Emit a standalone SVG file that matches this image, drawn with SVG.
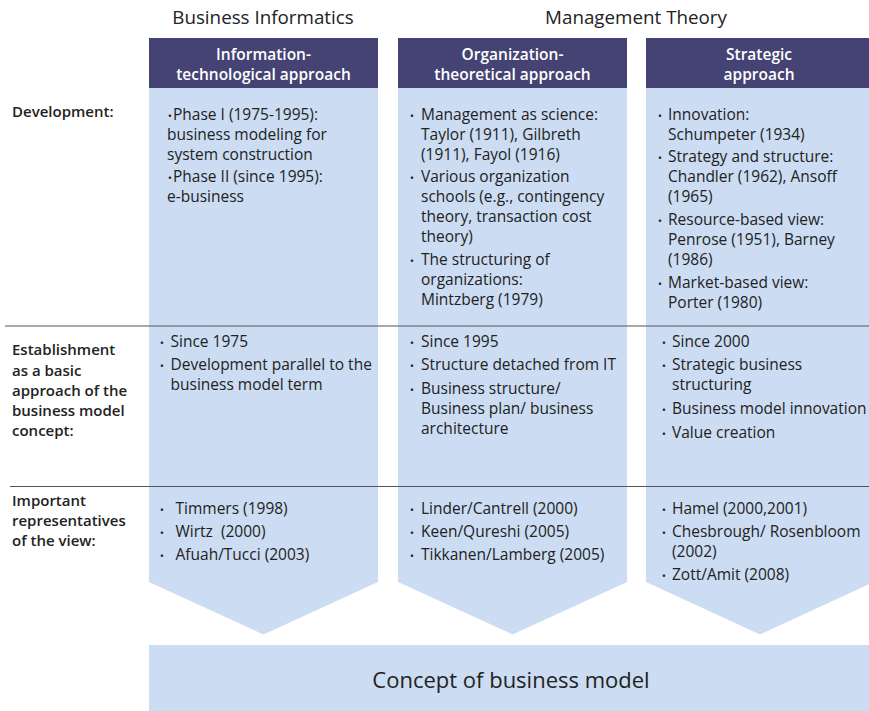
<svg xmlns="http://www.w3.org/2000/svg" width="869" height="711" viewBox="0 0 869 711">
<style>
.body{fill:#ccdcf2}
.head{fill:#454374}
.t{font-family:"Open Sans","Noto Sans",sans-serif;font-size:15.5px;fill:#222}
.b{font-family:"Open Sans","Noto Sans",sans-serif;font-size:11.5px;fill:#222;text-anchor:middle}
.lab{font-family:"Open Sans","Noto Sans",sans-serif;font-size:15px;font-weight:600;fill:#222}
.ht{font-family:"Open Sans","Noto Sans",sans-serif;font-size:15.5px;font-weight:600;fill:#fff;text-anchor:middle}
.top{font-family:"Open Sans","Noto Sans",sans-serif;font-size:18.8px;fill:#222;text-anchor:middle}
.big{font-family:"Open Sans","Noto Sans",sans-serif;font-size:22px;fill:#222;text-anchor:middle}
.sep{stroke:#555;stroke-width:1.2;fill:none}
</style>
<rect width="869" height="711" fill="#fff"/>
<g id="group-titles">
<text class="top" x="263" y="24">Business Informatics</text>
<text class="top" x="636" y="24">Management Theory</text>
</g>
<g id="col-it">
<polygon class="body" points="149,88 378,88 378,582 263.5,634.5 149,582"/>
<rect class="head" x="149" y="38" width="229" height="50"/>
<text class="ht" x="263.5" y="59.5">Information-</text>
<text class="ht" x="263.5" y="80">technological approach</text>
<text class="b" x="170" y="120">•</text>
<text class="t" x="173" y="120">Phase I (1975-1995):</text>
<text class="t" x="167" y="140">business modeling for</text>
<text class="t" x="167" y="160">system construction</text>
<text class="b" x="170" y="181.5">•</text>
<text class="t" x="173" y="181.5">Phase II (since 1995):</text>
<text class="t" x="167" y="201.5">e-business</text>
<text class="b" x="162" y="346.5">•</text>
<text class="t" x="170.5" y="346.5">Since 1975</text>
<text class="b" x="162" y="370">•</text>
<text class="t" x="170.5" y="370">Development parallel to the</text>
<text class="t" x="170.5" y="390">business model term</text>
<text class="b" x="162" y="513.5">•</text>
<text class="t" x="175.5" y="513.5">Timmers (1998)</text>
<text class="b" x="162" y="537">•</text>
<text class="t" x="175.5" y="537" xml:space="preserve">Wirtz  (2000)</text>
<text class="b" x="162" y="560">•</text>
<text class="t" x="175.5" y="560">Afuah/Tucci (2003)</text>
</g>
<g id="col-org">
<polygon class="body" points="398,88 627,88 627,582 512.5,634.5 398,582"/>
<rect class="head" x="398" y="38" width="229" height="50"/>
<text class="ht" x="512.5" y="59.5">Organization-</text>
<text class="ht" x="512.5" y="80">theoretical approach</text>
<text class="b" x="412" y="119.5">•</text>
<text class="t" x="421" y="119.5">Management as science:</text>
<text class="t" x="421" y="139.5">Taylor (1911), Gilbreth</text>
<text class="t" x="421" y="159.5">(1911), Fayol (1916)</text>
<text class="b" x="412" y="181.5">•</text>
<text class="t" x="421" y="181.5">Various organization</text>
<text class="t" x="421" y="201.5">schools (e.g., contingency</text>
<text class="t" x="421" y="221.5">theory, transaction cost</text>
<text class="t" x="421" y="241.5">theory)</text>
<text class="b" x="412" y="265">•</text>
<text class="t" x="421" y="265">The structuring of</text>
<text class="t" x="421" y="285">organizations:</text>
<text class="t" x="421" y="305">Mintzberg (1979)</text>
<text class="b" x="412" y="346.5">•</text>
<text class="t" x="421" y="346.5">Since 1995</text>
<text class="b" x="412" y="370">•</text>
<text class="t" x="421" y="370">Structure detached from IT</text>
<text class="b" x="412" y="394">•</text>
<text class="t" x="421" y="394">Business structure/</text>
<text class="t" x="421" y="414">Business plan/ business</text>
<text class="t" x="421" y="434">architecture</text>
<text class="b" x="412" y="513.5">•</text>
<text class="t" x="421" y="513.5">Linder/Cantrell (2000)</text>
<text class="b" x="412" y="537">•</text>
<text class="t" x="421" y="537">Keen/Qureshi (2005)</text>
<text class="b" x="412" y="560">•</text>
<text class="t" x="421" y="560">Tikkanen/Lamberg (2005)</text>
</g>
<g id="col-strat">
<polygon class="body" points="646,88 874,88 874,582 760,634.5 646,582"/>
<rect class="head" x="646" y="38" width="223" height="50"/>
<text class="ht" x="759" y="59.5">Strategic</text>
<text class="ht" x="759" y="80">approach</text>
<text class="b" x="660" y="119.5">•</text>
<text class="t" x="668" y="119.5">Innovation:</text>
<text class="t" x="668" y="139.5">Schumpeter (1934)</text>
<text class="b" x="660" y="161.5">•</text>
<text class="t" x="668" y="161.5">Strategy and structure:</text>
<text class="t" x="668" y="181.5">Chandler (1962), Ansoff</text>
<text class="t" x="668" y="201.5">(1965)</text>
<text class="b" x="660" y="224.5">•</text>
<text class="t" x="668" y="224.5">Resource-based view:</text>
<text class="t" x="668" y="245">Penrose (1951), Barney</text>
<text class="t" x="668" y="265">(1986)</text>
<text class="b" x="660" y="287.5">•</text>
<text class="t" x="668" y="287.5">Market-based view:</text>
<text class="t" x="668" y="308">Porter (1980)</text>
<text class="b" x="664" y="346.5">•</text>
<text class="t" x="672" y="346.5">Since 2000</text>
<text class="b" x="664" y="370">•</text>
<text class="t" x="672" y="370">Strategic business</text>
<text class="t" x="672" y="390">structuring</text>
<text class="b" x="664" y="414">•</text>
<text class="t" x="672" y="414">Business model innovation</text>
<text class="b" x="664" y="437.5">•</text>
<text class="t" x="672" y="437.5">Value creation</text>
<text class="b" x="664" y="513.5">•</text>
<text class="t" x="672" y="513.5">Hamel (2000,2001)</text>
<text class="b" x="664" y="537">•</text>
<text class="t" x="672" y="537">Chesbrough/ Rosenbloom</text>
<text class="t" x="672" y="557">(2002)</text>
<text class="b" x="664" y="580">•</text>
<text class="t" x="672" y="580">Zott/Amit (2008)</text>
</g>
<g id="row-labels">
<text class="lab" x="12" y="117">Development:</text>
<text class="lab" x="12" y="355">Establishment</text>
<text class="lab" x="12" y="375.5">as a basic</text>
<text class="lab" x="12" y="395.5">approach of the</text>
<text class="lab" x="12" y="415.5">business model</text>
<text class="lab" x="12" y="435.5">concept:</text>
<text class="lab" x="12" y="506">Important</text>
<text class="lab" x="12" y="526">representatives</text>
<text class="lab" x="12" y="546">of the view:</text>
</g>
<g id="connectors">
<line class="sep" x1="5" y1="326" x2="869" y2="326"/>
<line class="sep" x1="10" y1="486.5" x2="869" y2="486.5"/>
</g>
<g id="concept">
<rect class="body" x="149" y="645" width="720" height="66"/>
<text class="big" x="511" y="688">Concept of business model</text>
</g>
</svg>
